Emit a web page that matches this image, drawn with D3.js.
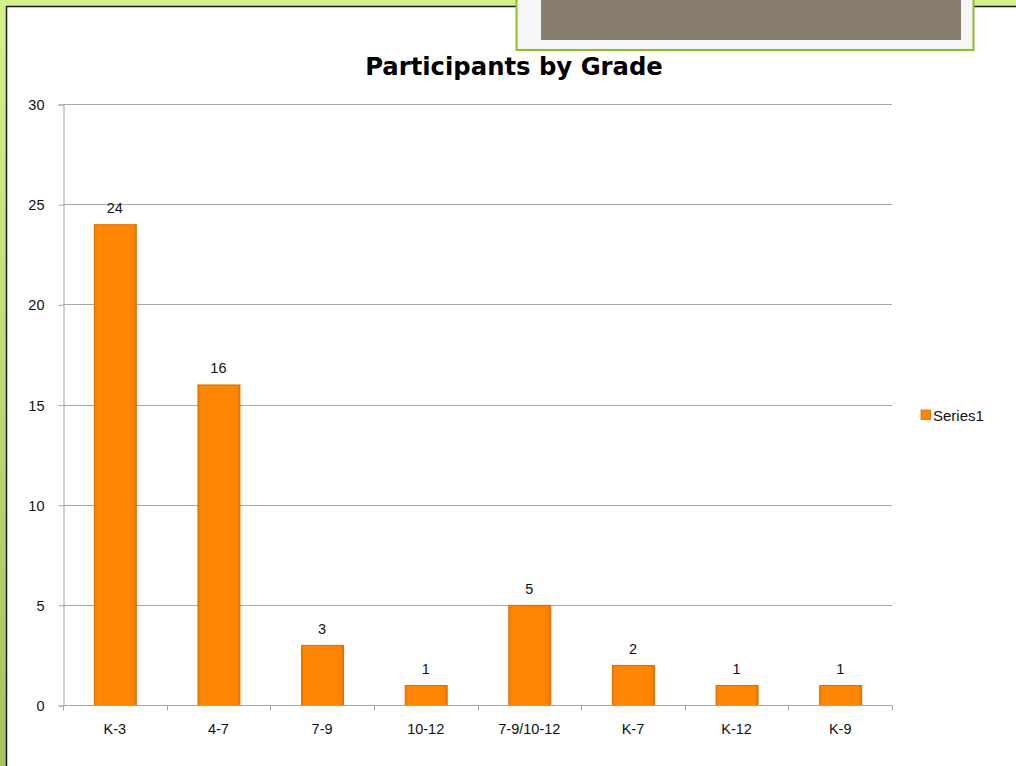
<!DOCTYPE html>
<html>
<head>
<meta charset="utf-8">
<script src="https://cdn.jsdelivr.net/npm/d3@7"></script>
<style>
  html, body { margin: 0; padding: 0; background: #fff; }
  svg { display: block; }
  text { font-family: "Liberation Sans", Arial, sans-serif; fill: #111; }
</style>
</head>
<body>
<svg id="chart" width="1016" height="766"></svg>
<script>
// chart data
const categories = ['K-3', '4-7', '7-9', '10-12', '7-9/10-12', 'K-7', 'K-12', 'K-9'];
const series1 = [24, 16, 3, 1, 5, 2, 1, 1];
const yTicks = [0, 5, 10, 15, 20, 25, 30];
const seriesName = 'Series1';
const chartTitle = 'Participants by Grade';

const svg = d3.select('#chart');
const W = 1016, H = 766;
const margin = { left: 63, right: 124, top: 104, bottom: 61 };

const defs = svg.append('defs');
const bg = defs.append('linearGradient').attr('id', 'bg')
  .attr('x1', 0).attr('y1', 0).attr('x2', 0).attr('y2', 1);
bg.append('stop').attr('offset', '0%').attr('stop-color', '#d6f08c');
bg.append('stop').attr('offset', '100%').attr('stop-color', '#a6c35e');

const barGrad = defs.append('linearGradient').attr('id', 'barGrad')
  .attr('x1', 0).attr('y1', 0).attr('x2', 1).attr('y2', 0);
barGrad.append('stop').attr('offset', '0%').attr('stop-color', '#f27a00');
barGrad.append('stop').attr('offset', '8%').attr('stop-color', '#ff8606');
barGrad.append('stop').attr('offset', '92%').attr('stop-color', '#ff8400');
barGrad.append('stop').attr('offset', '100%').attr('stop-color', '#e87300');

// slide background
svg.append('rect').attr('width', W).attr('height', H).attr('fill', 'url(#bg)');
svg.append('rect').attr('x', 7).attr('y', 7).attr('width', W - 7).attr('height', H - 7)
  .attr('fill', '#fff');
svg.append('path').attr('d', `M6.5,${H}V6.5H${W}`).attr('fill', 'none')
  .attr('stroke', '#1a1a1a').attr('stroke-width', 1.5);

// gray title placeholder box at top
svg.append('rect').attr('x', 516.5).attr('y', -2).attr('width', 457).attr('height', 52)
  .attr('fill', '#f6f6f6').attr('stroke', '#8fbc2c').attr('stroke-width', 2);
svg.append('rect').attr('x', 541).attr('y', 0).attr('width', 420).attr('height', 40)
  .attr('fill', '#877c6e');

const x = d3.scaleBand()
  .domain(categories)
  .range([margin.left, W - margin.right])
  .paddingInner(0.595)
  .paddingOuter(0.2975);

const y = d3.scaleLinear()
  .domain([0, 30])
  .range([H - margin.bottom, margin.top]);

// grid lines
svg.append('g')
  .selectAll('line')
  .data(yTicks.filter(d => d > 0))
  .join('line')
  .attr('x1', margin.left).attr('x2', W - margin.right)
  .attr('y1', d => Math.round(y(d)) + 0.5).attr('y2', d => Math.round(y(d)) + 0.5)
  .attr('stroke', '#a6a6a6');

// y axis
const yAxis = svg.append('g')
  .attr('transform', `translate(${margin.left + 0.5},0.5)`)
  .call(d3.axisLeft(y).tickValues(yTicks).tickSize(5).tickPadding(14));
yAxis.attr('font-family', null).attr('font-size', null);
yAxis.select('.domain').attr('stroke', '#a6a6a6');
yAxis.selectAll('.tick line').attr('stroke', '#a6a6a6');
yAxis.selectAll('.tick text').style('font-size', '14.5px').attr('fill', '#111')
  .attr('dy', '0.35em');

// bars
svg.append('g')
  .selectAll('rect')
  .data(series1)
  .join('rect')
  .attr('x', (d, i) => x(categories[i]) + 0.5)
  .attr('y', d => y(d) + 0.5)
  .attr('width', x.bandwidth())
  .attr('height', d => y(0) - y(d))
  .attr('fill', 'url(#barGrad)')
  .attr('stroke', '#d96c00')
  .attr('stroke-width', 1);

// data labels
svg.append('g')
  .selectAll('text')
  .data(series1)
  .join('text')
  .attr('x', (d, i) => x(categories[i]) + x.bandwidth() / 2)
  .attr('y', d => y(d) - 11)
  .attr('text-anchor', 'middle')
  .style('font-size', '14.5px')
  .text(d => d);

// x axis
const xAxisG = svg.append('g')
  .attr('transform', `translate(0,${Math.round(y(0)) + 0.5})`);
xAxisG.append('line')
  .attr('x1', margin.left).attr('x2', W - margin.right)
  .attr('stroke', '#a6a6a6');
const step = x.step();
xAxisG.selectAll('line.tk')
  .data(d3.range(categories.length + 1))
  .join('line')
  .attr('class', 'tk')
  .attr('x1', i => Math.round(margin.left + i * step) + 0.5)
  .attr('x2', i => Math.round(margin.left + i * step) + 0.5)
  .attr('y1', 0).attr('y2', 5)
  .attr('stroke', '#a6a6a6');
xAxisG.selectAll('text')
  .data(categories)
  .join('text')
  .attr('x', d => x(d) + x.bandwidth() / 2)
  .attr('y', 28)
  .attr('text-anchor', 'middle')
  .style('font-size', '14.5px')
  .text(d => d);

// title
svg.append('text')
  .attr('x', 514).attr('y', 75)
  .attr('text-anchor', 'middle')
  .style('font-family', '"DejaVu Sans", sans-serif')
  .style('font-weight', 'bold')
  .style('font-size', '24.3px')
  .style('fill', '#000')
  .text(chartTitle);

// legend
const lg = svg.append('g').attr('transform', 'translate(921,410)');
lg.append('rect').attr('width', 9.5).attr('height', 9.5)
  .attr('fill', 'url(#barGrad)').attr('stroke', '#d96c00').attr('stroke-width', 0.8);
lg.append('text').attr('x', 12).attr('y', 10.5).style('font-size', '15px').text(seriesName);
</script>
</body>
</html>
